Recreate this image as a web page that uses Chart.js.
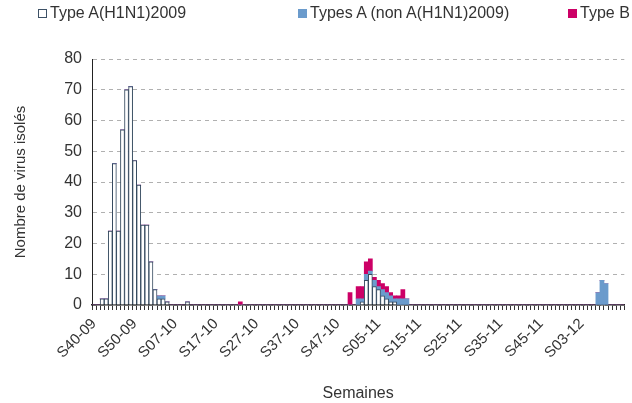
<!DOCTYPE html>
<html lang="fr">
<head>
  <meta charset="UTF-8" />
  <title>Virus isolés par semaine</title>
  <script src="https://cdn.jsdelivr.net/npm/chart.js"></script>
  <style>
    body {
      margin: 0;
      background: #fff;
      overflow: hidden;
      font-family: "Liberation Sans", Arial, sans-serif;
      color: #333;
    }
    .wrap {
      position: relative;
      width: 640px;
      height: 403px;
    }
    .legend {
      position: absolute;
      top: 4px;
      left: 0;
      width: 700px;
      font-size: 16px;
      white-space: nowrap;
    }
    .legend span {
      position: absolute;
      top: 0;
    }
    .legend i {
      display: inline-block;
      width: 9px;
      height: 9px;
      margin-right: 3px;
      box-sizing: border-box;
    }
  </style>
</head>
<body>
  <div class="wrap">
    <div class="legend">
      <span style="left:38px"><i style="border:1px solid #3d5166;background:#fff"></i>Type A(H1N1)2009</span>
      <span style="left:298px"><i style="background:#6b9bcc"></i>Types A (non A(H1N1)2009)</span>
      <span style="left:568px"><i style="background:#cc0066"></i>Type B</span>
    </div>
    <canvas id="virusChart"></canvas>
  </div>

  <script>
    // semaines S40-09 .. S13-12
    const weeks = [
      'S40-09','S41-09','S42-09','S43-09','S44-09','S45-09','S46-09','S47-09','S48-09','S49-09',
      'S50-09','S51-09','S52-09','S53-09',
      'S01-10','S02-10','S03-10','S04-10','S05-10','S06-10','S07-10','S08-10','S09-10','S10-10',
      'S11-10','S12-10','S13-10','S14-10','S15-10','S16-10','S17-10','S18-10','S19-10','S20-10',
      'S21-10','S22-10','S23-10','S24-10','S25-10','S26-10','S27-10','S28-10','S29-10','S30-10',
      'S31-10','S32-10','S33-10','S34-10','S35-10','S36-10','S37-10','S38-10','S39-10','S40-10',
      'S41-10','S42-10','S43-10','S44-10','S45-10','S46-10','S47-10','S48-10','S49-10','S50-10',
      'S51-10','S52-10',
      'S01-11','S02-11','S03-11','S04-11','S05-11','S06-11','S07-11','S08-11','S09-11','S10-11',
      'S11-11','S12-11','S13-11','S14-11','S15-11','S16-11','S17-11','S18-11','S19-11','S20-11',
      'S21-11','S22-11','S23-11','S24-11','S25-11','S26-11','S27-11','S28-11','S29-11','S30-11',
      'S31-11','S32-11','S33-11','S34-11','S35-11','S36-11','S37-11','S38-11','S39-11','S40-11',
      'S41-11','S42-11','S43-11','S44-11','S45-11','S46-11','S47-11','S48-11','S49-11','S50-11',
      'S51-11','S52-11',
      'S01-12','S02-12','S03-12','S04-12','S05-12','S06-12','S07-12','S08-12','S09-12','S10-12',
      'S11-12','S12-12','S13-12'
    ];

    // étiquettes affichées sur l'axe (une toutes les 10 semaines)
    const shownWeeks = ['S40-09','S50-09','S07-10','S17-10','S27-10','S37-10','S47-10',
                        'S05-11','S15-11','S25-11','S35-11','S45-11','S03-12'];

    const h1n1 = [
      0,0,2,2,24,46,24,57,70,71,
      47,39,26,26,14,5,2,2,1,0,
      0,0,0,1,0,0,0,0,0,0,
      0,0,0,0,0,0,0,0,0,0,
      0,0,0,0,0,0,0,0,0,0,
      0,0,0,0,0,0,0,0,0,0,
      0,0,0,0,0,0,1,8,10,6,
      5,3,2,1,1,0,0,0,0,0,
      0,0,0,0,0,0,0,0,0,0,
      0,0,0,0,0,0,0,0,0,0,
      0,0,0,0,0,0,0,0,0,0,
      0,0,0,0,0,0,0,0,0,0,
      0,0,0,0,0,0,0,0,0,0,
      0
    ];

    const nonH1n1 = [
      0,0,0,0,0,0,0,0,0,0,
      0,0,0,0,0,0,1,1,0,0,
      0,0,0,0,0,0,0,0,0,0,
      0,0,0,0,0,0,0,0,0,0,
      0,0,0,0,0,0,0,0,0,0,
      0,0,0,0,0,0,0,0,0,0,
      0,0,0,0,0,2,1,2,1,2,
      1,2,2,2,1,2,2,2,0,0,
      0,0,0,0,0,0,0,0,0,0,
      0,0,0,0,0,0,0,0,0,0,
      0,0,0,0,0,0,0,0,0,0,
      0,0,0,0,0,0,0,0,0,0,
      0,0,0,0,4,8,7,0,0,0,
      0
    ];

    const typeB = [
      0,0,0,0,0,0,0,0,0,0,
      0,0,0,0,0,0,0,0,0,0,
      0,0,0,0,0,0,0,0,0,0,
      0,0,0,0,0,0,1,0,0,0,
      0,0,0,0,0,0,0,0,0,0,
      0,0,0,0,0,0,0,0,0,0,
      0,0,0,4,0,4,4,4,4,1,
      2,2,2,1,1,1,3,0,0,0,
      0,0,0,0,0,0,0,0,0,0,
      0,0,0,0,0,0,0,0,0,0,
      0,0,0,0,0,0,0,0,0,0,
      0,0,0,0,0,0,0,0,0,0,
      0,0,0,0,0,0,0,0,0,0,
      0
    ];

    const txt = '#333';

    new Chart(document.getElementById('virusChart'), {
      type: 'bar',
      data: {
        labels: weeks,
        datasets: [
          { label: 'Type A(H1N1)2009', data: h1n1, backgroundColor: '#fff',
            borderColor: '#34495e', borderWidth: 1 },
          { label: 'Types A (non A(H1N1)2009)', data: nonH1n1, backgroundColor: '#6b9bcc' },
          { label: 'Type B', data: typeB, backgroundColor: '#cc0066' }
        ]
      },
      options: {
        responsive: true,
        maintainAspectRatio: false,
        animation: false,
        layout: { padding: { top: 59, left: 0, right: 0, bottom: 0 } },
        datasets: { bar: { barPercentage: 1, categoryPercentage: 1 } },
        plugins: {
          legend: { display: false },
          tooltip: { enabled: false }
        },
        scales: {
          x: {
            stacked: true,
            afterFit: s => { s.height = 98; },
            grid: { display: true, drawOnChartArea: false, drawTicks: true, tickLength: 5, color: '#333' },
            border: { color: '#222', width: 1.5 },
            ticks: {
              autoSkip: false,
              minRotation: 45,
              maxRotation: 45,
              padding: 5,
              color: txt,
              font: { size: 15, family: '"Liberation Sans", Arial, sans-serif' },
              callback: function (v, i) {
                const w = weeks[i];
                return shownWeeks.includes(w) ? w : '';
              }
            },
            title: {
              display: true,
              text: 'Semaines',
              color: txt,
              padding: { top: 0, bottom: 0 },
              font: { size: 16, family: '"Liberation Sans", Arial, sans-serif' }
            }
          },
          y: {
            stacked: true,
            min: 0,
            max: 80,
            afterFit: s => { s.width = 92; },
            grid: { drawTicks: false, color: '#b0b0b0' },
            border: { display: true, color: '#222', dash: [4, 4] },
            ticks: {
              stepSize: 10,
              padding: 10,
              color: txt,
              font: { size: 16, family: '"Liberation Sans", Arial, sans-serif' }
            },
            title: {
              display: true,
              text: 'Nombre de virus isolés',
              color: txt,
              padding: { top: 12, bottom: 0 },
              font: { size: 15, family: '"Liberation Sans", Arial, sans-serif' }
            }
          }
        }
      }
    });
  </script>
</body>
</html>
